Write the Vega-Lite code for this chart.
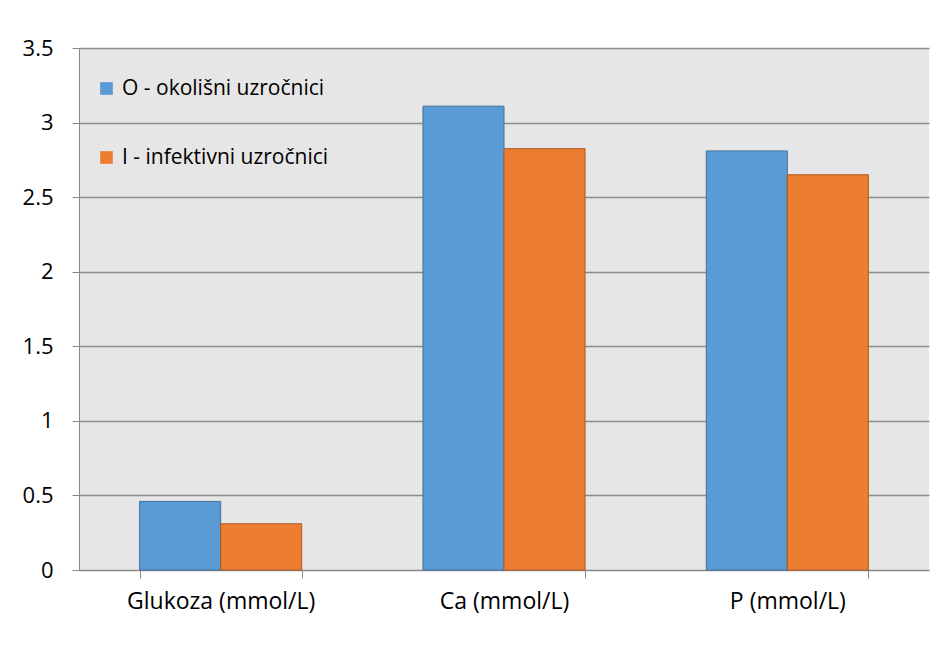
{
  "$schema": "https://vega.github.io/schema/vega-lite/v6.json",
  "width": 850,
  "height": 522,
  "autosize": {"type": "none"},
  "padding": {"left": 79, "top": 48, "right": 20, "bottom": 75},
  "background": "white",
  "data": {
    "values": [
      {"param": "Glukoza (mmol/L)", "group": "O - okolišni uzročnici", "value": 0.46},
      {"param": "Glukoza (mmol/L)", "group": "I - infektivni uzročnici", "value": 0.31},
      {"param": "Ca (mmol/L)", "group": "O - okolišni uzročnici", "value": 3.11},
      {"param": "Ca (mmol/L)", "group": "I - infektivni uzročnici", "value": 2.825},
      {"param": "P (mmol/L)", "group": "O - okolišni uzročnici", "value": 2.81},
      {"param": "P (mmol/L)", "group": "I - infektivni uzročnici", "value": 2.65}
    ]
  },
  "mark": {"type": "bar", "strokeWidth": 1},
  "encoding": {
    "x": {
      "field": "param",
      "type": "nominal",
      "sort": ["Glukoza (mmol/L)", "Ca (mmol/L)", "P (mmol/L)"],
      "scale": {"paddingInner": 0.428, "paddingOuter": 0.214},
      "axis": {
        "title": null,
        "labelAngle": 0,
        "labelFont": "Open Sans",
        "labelFontSize": 23,
        "labelColor": "#000000",
        "labelPadding": 12,
        "labelLimit": 0,
        "tickBand": "extent",
        "tickSize": 8,
        "tickColor": "#898989",
        "domainColor": "#898989",
        "grid": false
      }
    },
    "xOffset": {
      "field": "group",
      "type": "nominal",
      "sort": ["O - okolišni uzročnici", "I - infektivni uzročnici"],
      "scale": {"paddingInner": 0, "paddingOuter": 0}
    },
    "y": {
      "field": "value",
      "type": "quantitative",
      "scale": {"domain": [0, 3.5], "nice": false},
      "axis": {
        "title": null,
        "values": [0, 0.5, 1, 1.5, 2, 2.5, 3, 3.5],
        "format": "~g",
        "labelFont": "Open Sans",
        "labelFontSize": 22,
        "labelColor": "#000000",
        "labelPadding": 19,
        "tickSize": 7,
        "tickColor": "#898989",
        "domainColor": "#898989",
        "gridColor": "#8c8c8c",
        "gridWidth": 1.3
      }
    },
    "color": {
      "field": "group",
      "type": "nominal",
      "sort": ["O - okolišni uzročnici", "I - infektivni uzročnici"],
      "scale": {"range": ["#5b9bd5", "#ed7d31"]},
      "legend": {
        "title": null,
        "orient": "none",
        "legendX": 17,
        "legendY": 30,
        "padding": 0,
        "symbolType": "square",
        "symbolSize": 160,
        "symbolStrokeWidth": 1,
        "labelFont": "Open Sans",
        "labelFontSize": 21,
        "labelLimit": 0,
        "labelColor": "#000000",
        "labelOffset": 5,
        "rowPadding": 47
      }
    },
    "stroke": {
      "field": "group",
      "type": "nominal",
      "sort": ["O - okolišni uzročnici", "I - infektivni uzročnici"],
      "scale": {"range": ["#41719c", "#ae5a21"]},
      "legend": null
    }
  },
  "config": {
    "view": {"fill": "#e7e6e6", "stroke": null}
  }
}
